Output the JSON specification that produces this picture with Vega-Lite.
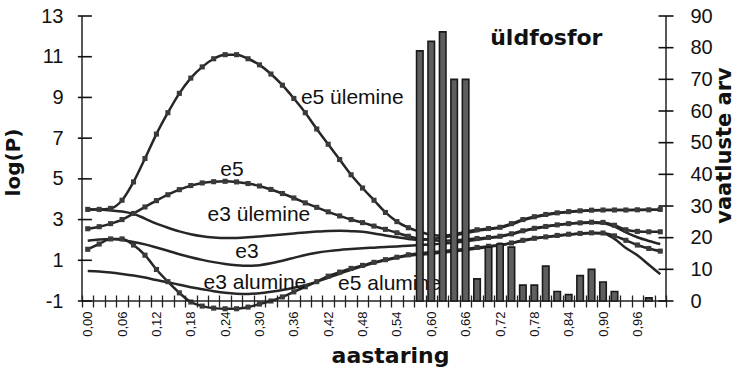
{
  "$schema": "https://vega.github.io/schema/vega-lite/v6.json",
  "width": 594,
  "height": 285,
  "autosize": {"type": "none"},
  "padding": {"left": 77, "top": 16, "right": 70, "bottom": 76},
  "background": "white",
  "config": {
    "view": {"stroke": null},
    "axis": {"labelFont": "Liberation Sans", "titleFont": "DejaVu Sans", "titleFontWeight": "bold", "labelColor": "#111", "titleColor": "#111", "tickColor": "#222", "tickOpacity": 1, "tickWidth": 1.3, "grid": false},
    "axisX": {"ticks": true, "tickColor": "#222", "tickWidth": 1.3}
  },
  "datasets": {
    "curves": [
      {"x": 0.00, "e5u": 3.5, "e5": 2.55, "e5a": 1.54, "e3u": 3.5, "e3": 1.96, "e3a": 0.47},
      {"x": 0.02, "e5u": 3.5, "e5": 2.65, "e5a": 1.8, "e3u": 3.49, "e3": 2.02, "e3a": 0.45},
      {"x": 0.04, "e5u": 3.55, "e5": 2.8, "e5a": 2.05, "e3u": 3.45, "e3": 2.05, "e3a": 0.4},
      {"x": 0.06, "e5u": 3.95, "e5": 3.0, "e5a": 2.05, "e3u": 3.4, "e3": 2.0, "e3a": 0.33},
      {"x": 0.08, "e5u": 4.85, "e5": 3.3, "e5a": 1.75, "e3u": 3.28, "e3": 1.9, "e3a": 0.25},
      {"x": 0.10, "e5u": 6.0, "e5": 3.62, "e5a": 1.25, "e3u": 3.05, "e3": 1.78, "e3a": 0.15},
      {"x": 0.12, "e5u": 7.2, "e5": 3.93, "e5a": 0.55, "e3u": 2.8, "e3": 1.63, "e3a": 0.03},
      {"x": 0.14, "e5u": 8.25, "e5": 4.22, "e5a": -0.05, "e3u": 2.6, "e3": 1.47, "e3a": -0.08},
      {"x": 0.16, "e5u": 9.2, "e5": 4.47, "e5a": -0.6, "e3u": 2.42, "e3": 1.3, "e3a": -0.2},
      {"x": 0.18, "e5u": 9.95, "e5": 4.67, "e5a": -1.05, "e3u": 2.28, "e3": 1.15, "e3a": -0.32},
      {"x": 0.20, "e5u": 10.5, "e5": 4.8, "e5a": -1.25, "e3u": 2.18, "e3": 1.02, "e3a": -0.42},
      {"x": 0.22, "e5u": 10.9, "e5": 4.86, "e5a": -1.35, "e3u": 2.12, "e3": 0.91, "e3a": -0.52},
      {"x": 0.24, "e5u": 11.1, "e5": 4.88, "e5a": -1.38, "e3u": 2.09, "e3": 0.82, "e3a": -0.6},
      {"x": 0.26, "e5u": 11.1, "e5": 4.85, "e5a": -1.38, "e3u": 2.1, "e3": 0.76, "e3a": -0.64},
      {"x": 0.28, "e5u": 10.9, "e5": 4.77, "e5a": -1.3, "e3u": 2.13, "e3": 0.73, "e3a": -0.65},
      {"x": 0.30, "e5u": 10.6, "e5": 4.65, "e5a": -1.15, "e3u": 2.17, "e3": 0.76, "e3a": -0.62},
      {"x": 0.32, "e5u": 10.15, "e5": 4.48, "e5a": -1.0, "e3u": 2.22, "e3": 0.85, "e3a": -0.55},
      {"x": 0.34, "e5u": 9.6, "e5": 4.28, "e5a": -0.8, "e3u": 2.27, "e3": 0.98, "e3a": -0.46},
      {"x": 0.36, "e5u": 8.95, "e5": 4.06, "e5a": -0.55, "e3u": 2.32, "e3": 1.12, "e3a": -0.35},
      {"x": 0.38, "e5u": 8.25, "e5": 3.82, "e5a": -0.3, "e3u": 2.37, "e3": 1.26, "e3a": -0.22},
      {"x": 0.40, "e5u": 7.45, "e5": 3.6, "e5a": -0.05, "e3u": 2.41, "e3": 1.37, "e3a": -0.06},
      {"x": 0.42, "e5u": 6.7, "e5": 3.38, "e5a": 0.22, "e3u": 2.44, "e3": 1.45, "e3a": 0.14},
      {"x": 0.44, "e5u": 5.95, "e5": 3.18, "e5a": 0.42, "e3u": 2.45, "e3": 1.51, "e3a": 0.34},
      {"x": 0.46, "e5u": 5.2, "e5": 3.0, "e5a": 0.6, "e3u": 2.43, "e3": 1.55, "e3a": 0.53},
      {"x": 0.48, "e5u": 4.55, "e5": 2.85, "e5a": 0.75, "e3u": 2.4, "e3": 1.59, "e3a": 0.7},
      {"x": 0.50, "e5u": 3.95, "e5": 2.68, "e5a": 0.9, "e3u": 2.32, "e3": 1.62, "e3a": 0.86},
      {"x": 0.52, "e5u": 3.35, "e5": 2.52, "e5a": 1.03, "e3u": 2.22, "e3": 1.65, "e3a": 1.0},
      {"x": 0.54, "e5u": 2.9, "e5": 2.35, "e5a": 1.15, "e3u": 2.13, "e3": 1.68, "e3a": 1.12},
      {"x": 0.56, "e5u": 2.6, "e5": 2.18, "e5a": 1.27, "e3u": 2.05, "e3": 1.72, "e3a": 1.22},
      {"x": 0.58, "e5u": 2.4, "e5": 2.06, "e5a": 1.35, "e3u": 2.0, "e3": 1.75, "e3a": 1.28},
      {"x": 0.60, "e5u": 2.25, "e5": 2.0, "e5a": 1.4, "e3u": 2.05, "e3": 1.78, "e3a": 1.32},
      {"x": 0.62, "e5u": 2.2, "e5": 1.96, "e5a": 1.45, "e3u": 2.12, "e3": 1.82, "e3a": 1.38},
      {"x": 0.64, "e5u": 2.28, "e5": 1.98, "e5a": 1.5, "e3u": 2.22, "e3": 1.86, "e3a": 1.43},
      {"x": 0.66, "e5u": 2.4, "e5": 2.02, "e5a": 1.56, "e3u": 2.34, "e3": 1.93, "e3a": 1.5},
      {"x": 0.68, "e5u": 2.5, "e5": 2.07, "e5a": 1.63, "e3u": 2.44, "e3": 2.01, "e3a": 1.58},
      {"x": 0.70, "e5u": 2.56, "e5": 2.12, "e5a": 1.69, "e3u": 2.52, "e3": 2.09, "e3a": 1.66},
      {"x": 0.72, "e5u": 2.62, "e5": 2.18, "e5a": 1.75, "e3u": 2.6, "e3": 2.16, "e3a": 1.74},
      {"x": 0.74, "e5u": 2.8, "e5": 2.3, "e5a": 1.85, "e3u": 2.76, "e3": 2.28, "e3a": 1.84},
      {"x": 0.76, "e5u": 3.0, "e5": 2.45, "e5a": 1.98, "e3u": 2.96, "e3": 2.43, "e3a": 1.96},
      {"x": 0.78, "e5u": 3.14, "e5": 2.57, "e5a": 2.08, "e3u": 3.11, "e3": 2.55, "e3a": 2.06},
      {"x": 0.80, "e5u": 3.25, "e5": 2.66, "e5a": 2.15, "e3u": 3.22, "e3": 2.65, "e3a": 2.14},
      {"x": 0.82, "e5u": 3.33, "e5": 2.74, "e5a": 2.22, "e3u": 3.31, "e3": 2.73, "e3a": 2.2},
      {"x": 0.84, "e5u": 3.39, "e5": 2.8, "e5a": 2.28, "e3u": 3.37, "e3": 2.79, "e3a": 2.26},
      {"x": 0.86, "e5u": 3.43, "e5": 2.84, "e5a": 2.32, "e3u": 3.42, "e3": 2.83, "e3a": 2.3},
      {"x": 0.88, "e5u": 3.46, "e5": 2.87, "e5a": 2.35, "e3u": 3.45, "e3": 2.85, "e3a": 2.33},
      {"x": 0.90, "e5u": 3.47, "e5": 2.86, "e5a": 2.34, "e3u": 3.46, "e3": 2.82, "e3a": 2.32},
      {"x": 0.92, "e5u": 3.47, "e5": 2.72, "e5a": 2.2, "e3u": 3.47, "e3": 2.65, "e3a": 2.05},
      {"x": 0.94, "e5u": 3.47, "e5": 2.5, "e5a": 1.98, "e3u": 3.47, "e3": 2.37, "e3a": 1.6},
      {"x": 0.96, "e5u": 3.48, "e5": 2.42, "e5a": 1.75, "e3u": 3.47, "e3": 2.13, "e3a": 1.25},
      {"x": 0.98, "e5u": 3.48, "e5": 2.4, "e5a": 1.58, "e3u": 3.48, "e3": 1.95, "e3a": 0.78},
      {"x": 1.00, "e5u": 3.5, "e5": 2.4, "e5a": 1.45, "e3u": 3.48, "e3": 1.8, "e3a": 0.32}
    ],
    "counts": [
      {"x": 0.58, "n": 79}, {"x": 0.60, "n": 82}, {"x": 0.62, "n": 85}, {"x": 0.64, "n": 70},
      {"x": 0.66, "n": 70}, {"x": 0.68, "n": 7}, {"x": 0.70, "n": 17}, {"x": 0.72, "n": 18},
      {"x": 0.74, "n": 17}, {"x": 0.76, "n": 5}, {"x": 0.78, "n": 5}, {"x": 0.80, "n": 11},
      {"x": 0.82, "n": 3}, {"x": 0.84, "n": 2}, {"x": 0.86, "n": 8}, {"x": 0.88, "n": 10},
      {"x": 0.90, "n": 6}, {"x": 0.92, "n": 3}, {"x": 0.98, "n": 1}
    ],
    "leftTicks": [{"v": -1}, {"v": 1}, {"v": 3}, {"v": 5}, {"v": 7}, {"v": 9}, {"v": 11}, {"v": 13}],
    "rightTicks": [{"n": 0}, {"n": 10}, {"n": 20}, {"n": 30}, {"n": 40}, {"n": 50}, {"n": 60}, {"n": 70}, {"n": 80}, {"n": 90}],
    "labels": [
      {"x": 0.462, "y": 8.97, "t": "e5 ülemine"},
      {"x": 0.252, "y": 5.43, "t": "e5"},
      {"x": 0.299, "y": 3.22, "t": "e3 ülemine"},
      {"x": 0.278, "y": 1.41, "t": "e3"},
      {"x": 0.292, "y": -0.12, "t": "e3 alumine"},
      {"x": 0.527, "y": -0.17, "t": "e5 alumine"}
    ]
  },
  "layer": [
    {
      "layer": [
        {
          "data": {"name": "curves"},
          "transform": [{"fold": ["e5u", "e5", "e5a", "e3u", "e3", "e3a"], "as": ["series", "value"]}],
          "mark": {"type": "line", "color": "#262626", "strokeWidth": 2.5, "interpolate": "monotone"},
          "encoding": {
            "x": {
              "field": "x", "type": "quantitative",
              "scale": {"domain": [-0.01, 1.01], "nice": false, "zero": false},
              "axis": {
                "title": "aastaring",
                "values": [-0.01, 0.01, 0.03, 0.05, 0.07, 0.09, 0.11, 0.13, 0.15, 0.17, 0.19, 0.21, 0.23, 0.25, 0.27, 0.29, 0.31, 0.33, 0.35, 0.37, 0.39, 0.41, 0.43, 0.45, 0.47, 0.49, 0.51, 0.53, 0.55, 0.57, 0.59, 0.61, 0.63, 0.65, 0.67, 0.69, 0.71, 0.73, 0.75, 0.77, 0.79, 0.81, 0.83, 0.85, 0.87, 0.89, 0.91, 0.93, 0.95, 0.97, 0.99, 1.01],
                "tickCount": 200,
                "labelExpr": "datum.value < 1 && round((datum.value + 0.01) * 100) % 6 == 0 ? replace(format(datum.value + 0.01, '.2f'), '.', ',') : ''",
                "labelAngle": -90,
                "labelOffset": 5.8,
                "labelFontSize": 13,
                "labelOverlap": false,
                "labelFlush": false,
                "labelBound": false,
                "labelPadding": 4,
                "ticks": true,
                "tickSize": 12,
                "offset": -6,
                "domain": false,
                "titleFontSize": 22,
                "titleX": 313,
                "titleY": 67,
                "titleBaseline": "alphabetic",
                "titleAlign": "center"
              }
            },
            "y": {
              "field": "value", "type": "quantitative",
              "scale": {"domain": [-1, 13], "nice": false, "zero": false},
              "axis": {
                "title": "log(P)",
                "values": [-1, 1, 3, 5, 7, 9, 11, 13],
                "tickCount": 20,
                "labelExpr": "datum.value + ''",
                "labelFontSize": 20,
                "labelOverlap": false,
                "labelFlush": false,
                "ticks": false,
                "tickSize": 0,
                "domain": false,
                "labelPadding": 14,
                "titleFontSize": 20,
                "titleAngle": 270,
                "titleX": -64,
                "titleY": 146,
                "titleBaseline": "middle",
                "titleAlign": "center"
              }
            },
            "detail": {"field": "series"}
          }
        },
        {
          "data": {"name": "curves"},
          "transform": [{"fold": ["e5u", "e5", "e5a"], "as": ["series", "value"]}],
          "mark": {"type": "point", "shape": "square", "filled": true, "size": 26, "color": "#3a3a3a", "opacity": 1},
          "encoding": {
            "x": {"field": "x", "type": "quantitative"},
            "y": {"field": "value", "type": "quantitative"}
          }
        },
        {
          "data": {"values": [{}]},
          "mark": {"type": "rule", "color": "#222", "strokeWidth": 1.5},
          "encoding": {"x": {"datum": -0.01}, "y": {"datum": -1}, "y2": {"datum": 13}}
        },
        {
          "data": {"values": [{}]},
          "mark": {"type": "rule", "color": "#222", "strokeWidth": 1.5},
          "encoding": {"x": {"datum": 1.01}, "y": {"datum": -1}, "y2": {"datum": 13}}
        },
        {
          "data": {"values": [{}]},
          "mark": {"type": "rule", "color": "#222", "strokeWidth": 1.5},
          "encoding": {"x": {"datum": -0.01}, "x2": {"datum": 1.01}, "y": {"datum": -1}}
        },
        {
          "data": {"name": "leftTicks"},
          "mark": {"type": "tick", "orient": "horizontal", "size": 14, "thickness": 1.6, "color": "#111", "opacity": 1},
          "encoding": {
            "x": {"datum": -0.005},
            "y": {"field": "v", "type": "quantitative"}
          }
        },
        {
          "data": {"name": "labels"},
          "mark": {"type": "text", "font": "Liberation Sans", "fontSize": 21, "color": "#111", "align": "center", "baseline": "middle"},
          "encoding": {
            "x": {"field": "x", "type": "quantitative"},
            "y": {"field": "y", "type": "quantitative"},
            "text": {"field": "t"}
          }
        },
        {
          "data": {"values": [{"x": 0.801, "y": 11.92, "t": "üldfosfor"}]},
          "mark": {"type": "text", "font": "DejaVu Sans", "fontWeight": "bold", "fontSize": 22, "color": "#111", "align": "center", "baseline": "middle"},
          "encoding": {
            "x": {"field": "x", "type": "quantitative"},
            "y": {"field": "y", "type": "quantitative"},
            "text": {"field": "t"}
          }
        }
      ]
    },
    {
      "layer": [
        {
          "data": {"name": "counts"},
          "mark": {"type": "bar", "size": 6.5, "fill": "#5e5e5e", "stroke": "#1a1a1a", "strokeWidth": 1.6},
          "encoding": {
            "x": {"field": "x", "type": "quantitative"},
            "y": {
              "field": "n", "type": "quantitative",
              "scale": {"domain": [0, 90], "nice": false},
              "axis": {
                "orient": "right",
                "title": "vaatluste arv",
                "values": [0, 10, 20, 30, 40, 50, 60, 70, 80, 90],
                "tickCount": 20,
                "labelFontSize": 20,
                "labelOverlap": false,
                "labelFlush": false,
                "ticks": false,
                "tickSize": 0,
                "domain": false,
                "labelPadding": 19,
                "titleFontSize": 21,
                "titleAngle": 270,
                "titleX": 53,
                "titleY": 129,
                "titleBaseline": "middle",
                "titleAlign": "center"
              }
            }
          }
        },
        {
          "data": {"name": "rightTicks"},
          "mark": {"type": "tick", "orient": "horizontal", "size": 15, "thickness": 1.6, "color": "#111", "opacity": 1},
          "encoding": {
            "x": {"datum": 1.01},
            "y": {"field": "n", "type": "quantitative"}
          }
        }
      ]
    }
  ],
  "resolve": {"scale": {"y": "independent"}}
}
